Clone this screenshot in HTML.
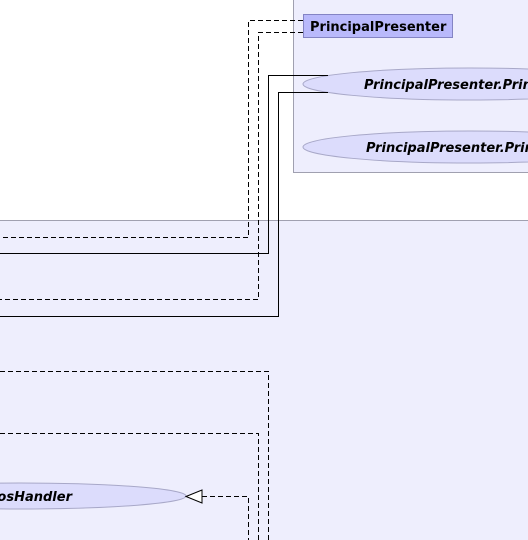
<!DOCTYPE html>
<html><head><meta charset="utf-8"><style>
html,body{margin:0;padding:0;background:#fff;}
svg{display:block;}
text{font-family:"DejaVu Sans","Liberation Sans",sans-serif;font-size:13px;font-weight:bold;fill:#000;}
</style></head><body>
<svg width="528" height="540" viewBox="0 0 528 540" xmlns="http://www.w3.org/2000/svg">
<rect x="293.5" y="-5" width="240" height="177.5" fill="#eeeefd" stroke="#a0a0b0"/>
<rect x="-5" y="220.5" width="540" height="330" fill="#eeeefd" stroke="#a0a0b0"/>
<rect x="303.5" y="14.5" width="149" height="23" fill="#b9b9fb" stroke="#8484c4"/>
<text x="310" y="31">PrincipalPresenter</text>
<ellipse cx="470" cy="84" rx="167" ry="16" fill="#dcdcfc" stroke="#a8a8c8"/>
<text x="364" y="89" font-style="italic">PrincipalPresenter.Prin</text>
<ellipse cx="470" cy="147" rx="167" ry="16" fill="#dcdcfc" stroke="#a8a8c8"/>
<text x="366" y="152" font-style="italic">PrincipalPresenter.Prin</text>
<ellipse cx="20" cy="496" rx="166" ry="13" fill="#dcdcfc" stroke="#a8a8c8"/>
<text x="72" y="501" text-anchor="end" font-style="italic">osHandler</text>
<g fill="none" stroke="#000" stroke-width="1">
<path d="M303 20.5H248.5V237.5H0" stroke-dasharray="5,3"/>
<path d="M303 32.5H258.5V299.5H0" stroke-dasharray="5,3"/>
<path d="M328 75.5H268.5V253.5H0"/>
<path d="M328 92.5H278.5V316.5H0"/>
<path d="M0 371.5H268.5V540" stroke-dasharray="5,3"/>
<path d="M0 433.5H258.5V540" stroke-dasharray="5,3"/>
<path d="M202 496.5H248.5V540" stroke-dasharray="5,3"/>
<path d="M186 496.5L202 490V503Z" fill="#fff"/>
</g>
</svg>
</body></html>
